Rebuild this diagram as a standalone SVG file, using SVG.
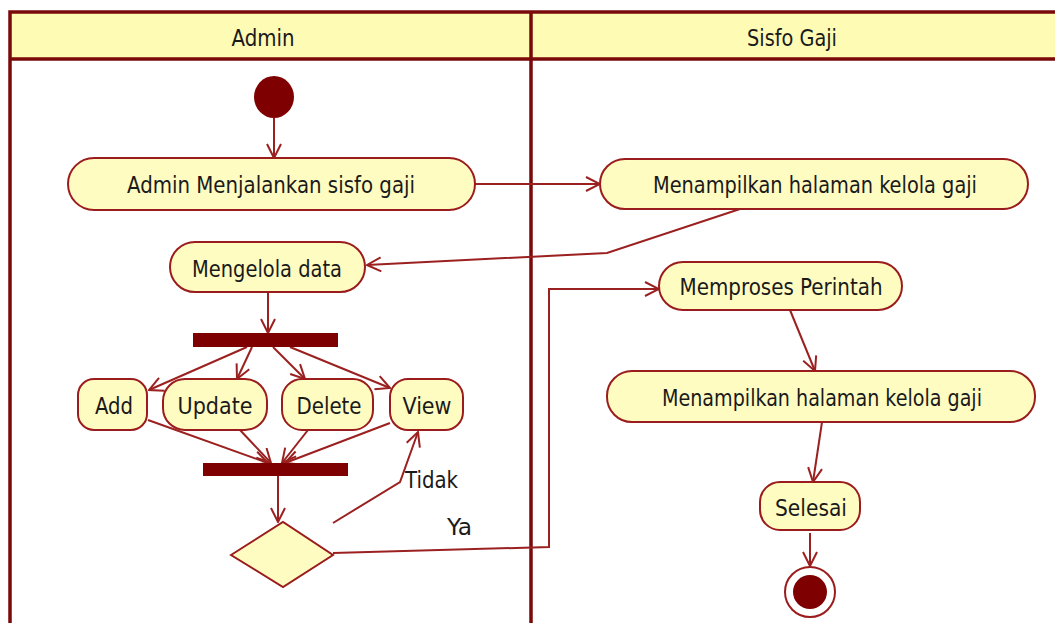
<svg xmlns="http://www.w3.org/2000/svg" width="1055" height="623" viewBox="0 0 1055 623">
  <style>
    .lane { fill: none; stroke: #7a0a0a; stroke-width: 3.5; }
    .head { fill: #fdfbb4; }
    .act { fill: #fffcc2; stroke: #9b1c1c; stroke-width: 2; }
    .bar { fill: #7f0000; }
    .lbl { font-family: "DejaVu Sans Condensed", "DejaVu Sans", sans-serif; font-size: 23px; fill: #1a1a1a; text-anchor: middle; }
    .edge { fill: none; stroke: #9b2020; stroke-width: 2; marker-end: url(#arr); }
    .guard { font-family: "DejaVu Sans Condensed", "DejaVu Sans", sans-serif; font-size: 23px; fill: #1a1a1a; }
  </style>
  <defs>
    <marker id="arr" viewBox="0 0 16 16" refX="15" refY="8" markerWidth="16" markerHeight="16" orient="auto" markerUnits="userSpaceOnUse">
      <path d="M1,1 L15,8 L1,15" fill="none" stroke="#9b2020" stroke-width="2"/>
    </marker>
  </defs>
  <rect width="1055" height="623" fill="#ffffff"/>

  <!-- swimlanes -->
  <g id="lanes">
    <rect class="head" x="10" y="12" width="1060" height="47"/>
    <path class="lane" d="M10,640 V12 H1070 M10,59 H1070 M531,12 V640"/>
    <text class="lbl" x="263" y="46" textLength="63" lengthAdjust="spacingAndGlyphs">Admin</text>
    <text class="lbl" x="792" y="46" textLength="90" lengthAdjust="spacingAndGlyphs">Sisfo Gaji</text>
  </g>

  <!-- connectors -->
  <g id="connectors">
    <path class="edge" d="M274,118 V158"/>
    <path class="edge" d="M475,184 H600"/>
    <path class="edge" d="M740,209 L607,253 L367,265"/>
    <path class="edge" d="M268,292 V333"/>
    <path class="edge" d="M247,347 L149,390"/>
    <path class="edge" d="M252,347 L237,379"/>
    <path class="edge" d="M273,347 L305,379"/>
    <path class="edge" d="M290,347 L390,388"/>
    <path class="edge" d="M148,420 L268,463"/>
    <path class="edge" d="M240,430 L271,463"/>
    <path class="edge" d="M308,430 L282,463"/>
    <path class="edge" d="M390,423 L285,463"/>
    <path class="edge" d="M278,476 V522"/>
    <path class="edge" d="M333,523 L400,482 L418,432"/>
    <path class="edge" d="M333,553 L549,547 V289 H659"/>
    <path class="edge" d="M790,310 L815,371"/>
    <path class="edge" d="M822,422 L813,482"/>
    <path class="edge" d="M810,533 V566"/>
    <text class="guard" x="405" y="488" textLength="53" lengthAdjust="spacingAndGlyphs">Tidak</text>
    <text class="guard" x="447" y="535" textLength="25" lengthAdjust="spacingAndGlyphs">Ya</text>
  </g>

  <!-- Admin lane -->
  <g id="start">
    <ellipse cx="274" cy="97" rx="20" ry="21" class="bar"/>
  </g>
  <g id="admin-run">
    <rect class="act" x="68" y="158" width="407" height="52" rx="26"/>
    <text class="lbl" x="271" y="193" textLength="288" lengthAdjust="spacingAndGlyphs">Admin Menjalankan sisfo gaji</text>
  </g>
  <g id="manage-data">
    <rect class="act" x="170" y="242" width="195" height="50" rx="25"/>
    <text class="lbl" x="267" y="277" textLength="150" lengthAdjust="spacingAndGlyphs">Mengelola data</text>
  </g>
  <g id="fork">
    <rect class="bar" x="193" y="333" width="145" height="14"/>
  </g>
  <g id="add">
    <rect class="act" x="78" y="379" width="69" height="51" rx="16"/>
    <text class="lbl" x="114" y="414" textLength="38" lengthAdjust="spacingAndGlyphs">Add</text>
  </g>
  <g id="update">
    <rect class="act" x="163" y="379" width="104" height="51" rx="22"/>
    <text class="lbl" x="215" y="414" textLength="75" lengthAdjust="spacingAndGlyphs">Update</text>
  </g>
  <g id="delete">
    <rect class="act" x="282" y="379" width="91" height="51" rx="20"/>
    <text class="lbl" x="329" y="414" textLength="65" lengthAdjust="spacingAndGlyphs">Delete</text>
  </g>
  <g id="view">
    <rect class="act" x="390" y="379" width="73" height="51" rx="18"/>
    <text class="lbl" x="427" y="414" textLength="49" lengthAdjust="spacingAndGlyphs">View</text>
  </g>
  <g id="join">
    <rect class="bar" x="203" y="463" width="145" height="13"/>
  </g>
  <g id="decision">
    <polygon class="act" points="231,555 283,522 333,555 283,587"/>
  </g>

  <!-- Sisfo Gaji lane -->
  <g id="show-page">
    <rect class="act" x="600" y="159" width="428" height="50" rx="25"/>
    <text class="lbl" x="815" y="193" textLength="324" lengthAdjust="spacingAndGlyphs">Menampilkan halaman kelola gaji</text>
  </g>
  <g id="process">
    <rect class="act" x="659" y="262" width="243" height="48" rx="24"/>
    <text class="lbl" x="781" y="295" textLength="203" lengthAdjust="spacingAndGlyphs">Memproses Perintah</text>
  </g>
  <g id="show-page-2">
    <rect class="act" x="607" y="371" width="428" height="51" rx="25"/>
    <text class="lbl" x="822" y="406" textLength="320" lengthAdjust="spacingAndGlyphs">Menampilkan halaman kelola gaji</text>
  </g>
  <g id="done">
    <rect class="act" x="760" y="482" width="100" height="48" rx="20"/>
    <text class="lbl" x="811" y="516" textLength="72" lengthAdjust="spacingAndGlyphs">Selesai</text>
  </g>
  <g id="end">
    <circle cx="810" cy="592" r="25" fill="#ffffff" stroke="#9b1c1c" stroke-width="2"/>
    <circle cx="810" cy="592" r="17" class="bar"/>
  </g>
</svg>
